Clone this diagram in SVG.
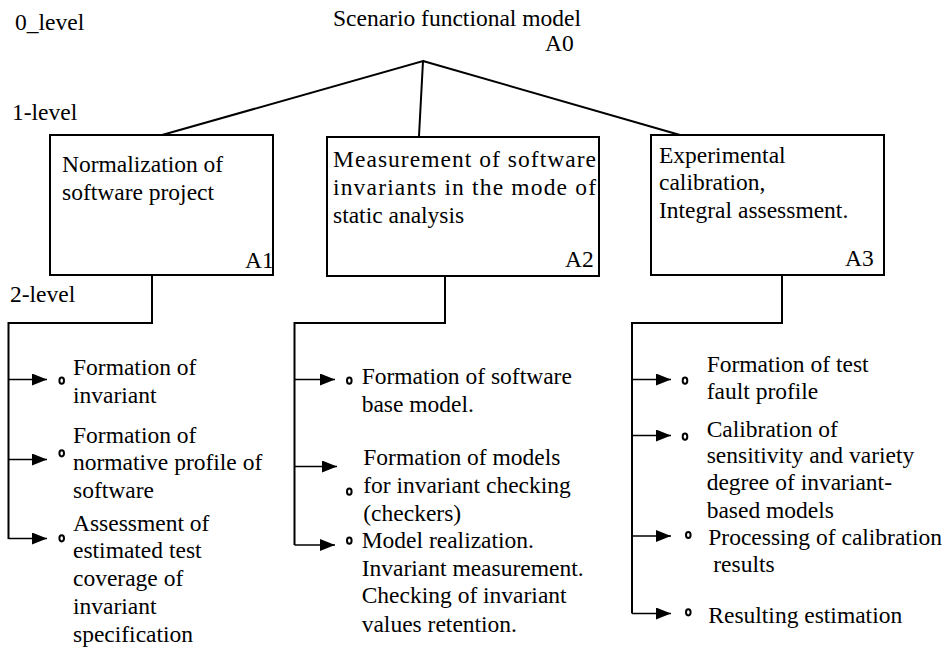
<svg xmlns="http://www.w3.org/2000/svg" width="949" height="651" viewBox="0 0 949 651" font-family="'Liberation Serif', 'DejaVu Serif', serif">
<style>
text{font-family:'Liberation Serif','DejaVu Serif',serif;font-size:23.5px;fill:#000}
.box{fill:#fff;stroke:#000;stroke-width:2}
.ln{fill:none;stroke:#000;stroke-width:2}
.ar{fill:none;stroke:#000;stroke-width:1.6;marker-end:url(#ah)}
.bul{fill:none;stroke:#000;stroke-width:2}
</style>
<defs>
<marker id="ah" markerWidth="15" markerHeight="12" refX="15" refY="6" orient="auto" markerUnits="userSpaceOnUse"><path d="M0,0 L15,6 L0,12 z" fill="#000"/></marker>
</defs>
<g id="levels">
<text x="15" y="30">0_level</text>
<text x="12" y="120">1-level</text>
<text x="10" y="302">2-level</text>
</g>
<g id="A0">
<text x="333" y="26" font-size="24">Scenario functional model</text>
<text x="545" y="51">A0</text>
</g>
<g id="connectors">
<path class="ln" d="M162,135 L423,61 L419,136 M423,61 L680,135"/>
<path class="ln" d="M152,275 V323 H8.5 V539"/>
<path class="ar" d="M8.5,379.5 H47"/>
<path class="ar" d="M8.5,459.5 H47"/>
<path class="ar" d="M8.5,538.5 H47"/>
<path class="ln" d="M445,276 V323 H294.5 V545"/>
<path class="ar" d="M294.5,379.5 H335"/>
<path class="ar" d="M294.5,466.5 H337"/>
<path class="ar" d="M294.5,545 H335"/>
<path class="ln" d="M782,275 V323 H632 V613.5"/>
<path class="ar" d="M632,379.5 H671"/>
<path class="ar" d="M632,435.5 H671"/>
<path class="ar" d="M632,536 H671"/>
<path class="ar" d="M632,613.5 H671"/>
</g>
<g id="A1">
<rect class="box" x="50" y="135" width="223" height="140"/>
<text x="62" y="171.5">Normalization of</text>
<text x="62" y="199.5">software project</text>
<text x="245" y="268">A1</text>
</g>
<g id="A2">
<rect class="box" x="327" y="137" width="272" height="139"/>
<text x="333" y="166.5" textLength="263" lengthAdjust="spacing">Measurement of software</text>
<text x="333" y="195" textLength="263" lengthAdjust="spacing">invariants in the mode of</text>
<text x="333" y="223">static analysis</text>
<text x="565" y="267">A2</text>
</g>
<g id="A3">
<rect class="box" x="651" y="135" width="233" height="140"/>
<text x="659" y="162.5">Experimental</text>
<text x="659" y="190">calibration,</text>
<text x="659" y="218">Integral assessment.</text>
<text x="845" y="266">A3</text>
</g>
<g id="A11">
<ellipse class="bul" cx="61.7" cy="380.7" rx="2.3" ry="3.1"/>
<text x="73" y="375">Formation of</text>
<text x="73" y="402.5">invariant</text>
</g>
<g id="A12">
<ellipse class="bul" cx="61.7" cy="453.3" rx="2.3" ry="3.1"/>
<text x="73" y="442.5">Formation of</text>
<text x="73" y="470">normative profile of</text>
<text x="73" y="497.5">software</text>
</g>
<g id="A13">
<ellipse class="bul" cx="61.7" cy="538.3" rx="2.3" ry="3.1"/>
<text x="73" y="530.5">Assessment of</text>
<text x="73" y="558.3">estimated test</text>
<text x="73" y="586">coverage of</text>
<text x="73" y="613.5">invariant</text>
<text x="73" y="641.5">specification</text>
</g>
<g id="A21">
<ellipse class="bul" cx="349.3" cy="380.7" rx="2.3" ry="3.1"/>
<text x="361.7" y="384">Formation of software</text>
<text x="361.7" y="411.7">base model.</text>
</g>
<g id="A22">
<ellipse class="bul" cx="349.3" cy="491.7" rx="2.3" ry="3.1"/>
<text x="363.3" y="465">Formation of models</text>
<text x="363.3" y="492.7">for invariant checking</text>
<text x="363.3" y="520.5">(checkers)</text>
</g>
<g id="A23">
<ellipse class="bul" cx="349.3" cy="540.7" rx="2.3" ry="3.1"/>
<text x="361.7" y="548.3">Model realization.</text>
<text x="361.7" y="576">Invariant measurement.</text>
<text x="361.7" y="603.3">Checking of invariant</text>
<text x="361.7" y="631.5">values retention.</text>
</g>
<g id="A31">
<ellipse class="bul" cx="685" cy="380.7" rx="2.3" ry="3.1"/>
<text x="706.7" y="371.7">Formation of test</text>
<text x="706.7" y="399.3">fault profile</text>
</g>
<g id="A32">
<ellipse class="bul" cx="685" cy="436.7" rx="2.3" ry="3.1"/>
<text x="706.7" y="436.7">Calibration of</text>
<text x="706.7" y="463.3">sensitivity and variety</text>
<text x="706.7" y="490">degree of invariant-</text>
<text x="706.7" y="518">based models</text>
</g>
<g id="A33">
<ellipse class="bul" cx="688.3" cy="535" rx="2.3" ry="3.1"/>
<text x="708.3" y="545">Processing of calibration</text>
<text x="713.3" y="571.7">results</text>
</g>
<g id="A34">
<ellipse class="bul" cx="688.3" cy="612.3" rx="2.3" ry="3.1"/>
<text x="708.3" y="623.3">Resulting estimation</text>
</g>
</svg>
